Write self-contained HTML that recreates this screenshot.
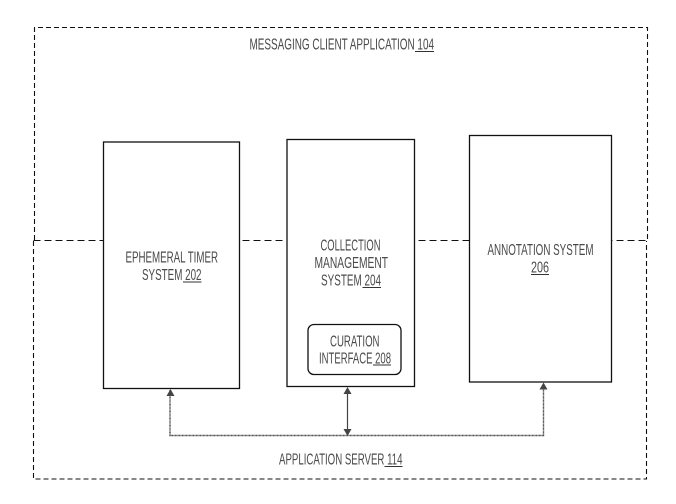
<!DOCTYPE html>
<html><head><meta charset="utf-8"><style>
html,body{margin:0;padding:0;background:#fff}
svg{display:block}
text{font-family:"Liberation Sans Narrow","Liberation Sans",sans-serif;font-size:16px;fill:#4a4a4a}
.d{fill:none;stroke:#111;stroke-width:1.1;stroke-dasharray:5 3}
.m{fill:none;stroke:#111;stroke-width:1.1;stroke-dasharray:7 4}
.b{fill:#fff;stroke:#111;stroke-width:1.3}
.u{stroke:#333;stroke-width:1.1}
.c{fill:none;stroke:#444;stroke-width:1.4;stroke-dasharray:1 .4}
.a{fill:#444}
</style></head><body>
<svg width="676" height="504" viewBox="0 0 676 504" xmlns="http://www.w3.org/2000/svg">
<path class="d" d="M34.5 240V27.5H647.5V240"/>
<path class="m" d="M33.5 240.5H647.5"/>
<path class="d" d="M33.5 241V479H646.5V241"/>
<rect class="b" x="103.5" y="142" width="136" height="246.5"/>
<rect class="b" x="287" y="139.5" width="127.5" height="247"/>
<rect class="b" x="469.5" y="135.5" width="142" height="246.5"/>
<rect class="b" x="308" y="324.5" width="93" height="50" rx="6"/>
<path class="c" d="M170 390V435.5H543.5V384"/>
<path d="M347.5 389V433" fill="none" stroke="#444" stroke-width="1.2"/>
<path class="a" d="M170.5 389L174.5 396H166.5Z"/>
<path class="a" d="M347.5 387L351.5 394H343.5Z"/>
<path class="a" d="M347.5 436L351.5 429H343.5Z"/>
<path class="a" d="M543.5 382.5L547.5 389.5H539.5Z"/>
<text x="249.5" y="49.5" textLength="184.5" lengthAdjust="spacingAndGlyphs">MESSAGING CLIENT APPLICATION 104</text>
<line class="u" x1="415" y1="51.5" x2="434" y2="51.5"/>
<text x="125.5" y="262.5" textLength="92.5" lengthAdjust="spacingAndGlyphs">EPHEMERAL TIMER</text>
<text x="142" y="280" textLength="59.5" lengthAdjust="spacingAndGlyphs">SYSTEM 202</text>
<line class="u" x1="183" y1="282" x2="201.5" y2="282"/>
<text x="320.5" y="250.5" textLength="60" lengthAdjust="spacingAndGlyphs">COLLECTION</text>
<text x="314.5" y="268" textLength="73.5" lengthAdjust="spacingAndGlyphs">MANAGEMENT</text>
<text x="321" y="285.5" textLength="60" lengthAdjust="spacingAndGlyphs">SYSTEM 204</text>
<line class="u" x1="362.5" y1="287.5" x2="381" y2="287.5"/>
<text x="330" y="346.5" textLength="49.5" lengthAdjust="spacingAndGlyphs">CURATION</text>
<text x="319" y="363.5" textLength="72" lengthAdjust="spacingAndGlyphs">INTERFACE 208</text>
<line class="u" x1="373" y1="365" x2="391" y2="365"/>
<text x="487.5" y="255" textLength="106" lengthAdjust="spacingAndGlyphs">ANNOTATION SYSTEM</text>
<text x="531" y="272.5" textLength="18" lengthAdjust="spacingAndGlyphs">206</text>
<line class="u" x1="531" y1="274.5" x2="549" y2="274.5"/>
<text x="279" y="464.5" textLength="123.5" lengthAdjust="spacingAndGlyphs">APPLICATION SERVER 114</text>
<line class="u" x1="384.5" y1="466.5" x2="402.5" y2="466.5"/>
</svg>
</body></html>
